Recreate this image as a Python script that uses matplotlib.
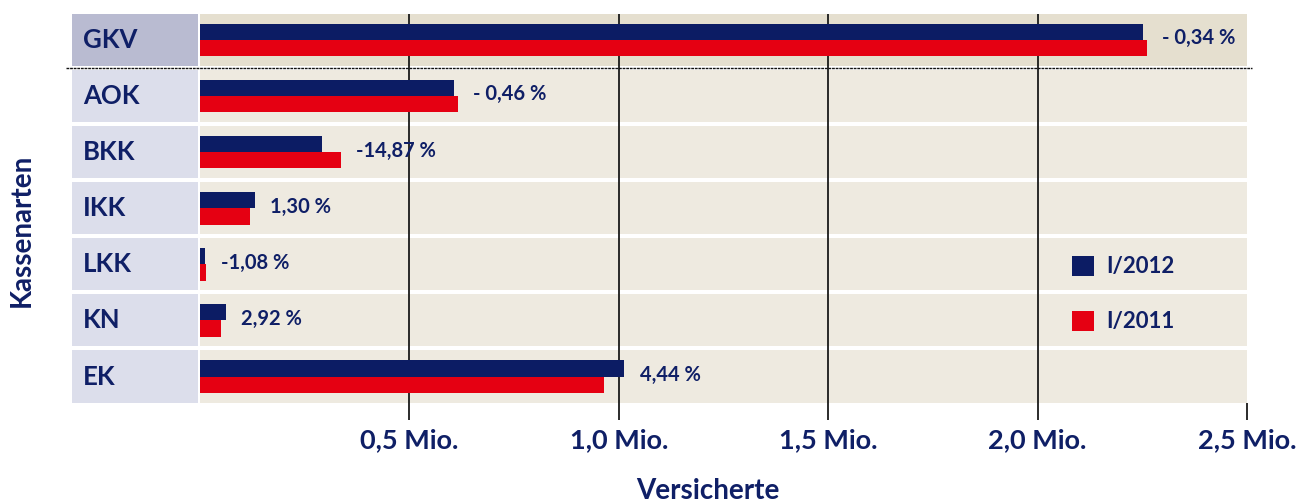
import matplotlib
matplotlib.use('Agg')
import matplotlib.pyplot as plt
from matplotlib.patches import Rectangle, Patch
from matplotlib.lines import Line2D
from matplotlib.transforms import blended_transform_factory

# ---- data ----
categories = ['GKV', 'AOK', 'BKK', 'IKK', 'LKK', 'KN', 'EK']
values_2012 = [2.252, 0.606, 0.291, 0.131, 0.012, 0.062, 1.013]
values_2011 = [2.261, 0.616, 0.337, 0.119, 0.014, 0.050, 0.964]
changes = ['- 0,34 %', '- 0,46 %', '-14,87 %', '1,30 %', '-1,08 %', '2,92 %', '4,44 %']
xticks = [0.5, 1.0, 1.5, 2.0, 2.5]
xtick_labels = ['0,5 Mio.', '1,0 Mio.', '1,5 Mio.', '2,0 Mio.', '2,5 Mio.']
series_names = ['I/2012', 'I/2011']

# ---- style ----
NAVY = '#0c1c64'
RED = '#e50012'
TXT = '#0f1f66'
CELL = '#eeeae0'
CELL_TOP = '#e5dfcf'
LAB = '#dcdeeb'
LAB_TOP = '#b9bbd1'
FONT = ['Lato', 'DejaVu Sans']
plt.rcParams['font.family'] = FONT

W, H = 1297, 503
fig = plt.figure(figsize=(W / 100, H / 100), dpi=100)
ax = fig.add_axes([200 / W, 1 - 403 / H, 1047 / W, 389 / H])
ax.set_xlim(0, 2.5)
ax.set_ylim(6.4725, -0.4636)
for s in ax.spines.values():
    s.set_visible(False)
ax.set_facecolor('white')

n = len(categories)
ys = list(range(n))
half = 0.465
bt = blended_transform_factory(fig.transFigure, ax.transData)
for i, cat in enumerate(categories):
    ax.axhspan(i - half, i + half, color=CELL_TOP if i == 0 else CELL, lw=0, zorder=0)
    fig.patches.append(Rectangle((72 / W, i - half), (198 - 72) / W, 2 * half,
                                 transform=bt, facecolor=LAB_TOP if i == 0 else LAB,
                                 edgecolor='none', zorder=0))
    fig.text(83 / W, i, cat, transform=bt, ha='left', va='center',
             fontsize=18.5, fontweight='bold', color=TXT)

# separator line between GKV and the rest
fig.lines.append(Line2D([66 / W, 1252 / W], [0.5, 0.5], transform=bt,
                        color='#111111', lw=1.0, linestyle=(0, (2, 0.6))))

# gridlines
for x in xticks[:-1]:
    ax.axvline(x, color='#1a1a1a', lw=1.3, zorder=1)

h = 0.29
ax.barh([y - h / 2 for y in ys], values_2012, height=h, color=NAVY, zorder=3,
        label=series_names[0])
ax.barh([y + h / 2 for y in ys], values_2011, height=h, color=RED, zorder=3,
        label=series_names[1])

for i in range(n):
    xm = max(values_2012[i], values_2011[i])
    ax.annotate(changes[i], (xm, i - 0.03), xytext=(11, 0), textcoords='offset points',
                ha='left', va='center', fontsize=14.5, fontweight='bold', color=TXT,
                zorder=4)

ax.set_yticks([])
ax.set_xticks(xticks)
ax.set_xticklabels(xtick_labels, fontsize=19.5, fontweight='bold', color=TXT)
ax.tick_params(axis='x', direction='out', length=12, width=1.3, color='#1a1a1a', pad=6)

handles = [Patch(facecolor=NAVY, edgecolor='none'), Patch(facecolor=RED, edgecolor='none')]
leg = ax.legend(handles, series_names, loc='center left',
                bbox_to_anchor=(1072 / W, 1 - 294 / H), bbox_transform=fig.transFigure,
                frameon=False, fontsize=16, handlelength=1.0, handleheight=1.0,
                handletextpad=0.55, labelspacing=1.5, borderpad=0, borderaxespad=0)
for t in leg.get_texts():
    t.set_color(TXT)
    t.set_fontweight('bold')

fig.text(22 / W, 1 - 230 / H, 'Kassenarten', rotation=90, ha='center', va='center',
         fontsize=20, fontweight='bold', color=TXT)
fig.text(708 / W, 1 - 491 / H, 'Versicherte', ha='center', va='center',
         fontsize=20, fontweight='bold', color=TXT)

fig.savefig('out.png', dpi=100)
